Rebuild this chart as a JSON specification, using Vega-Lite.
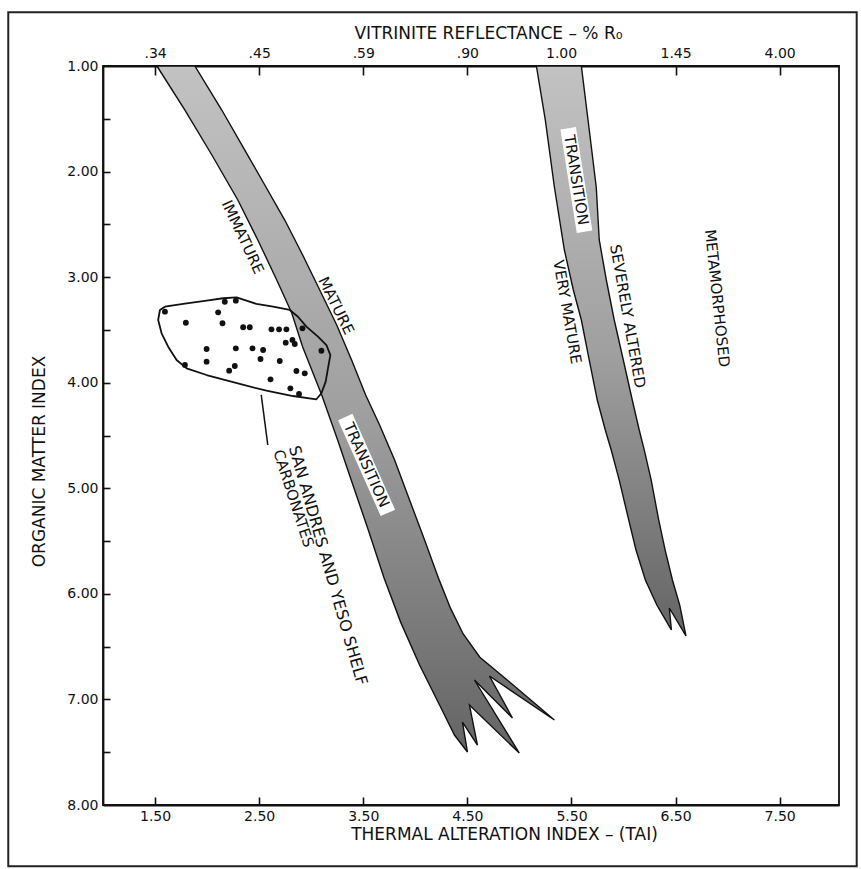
{
  "$schema": "https://vega.github.io/schema/vega-lite/v6.json",
  "width": 736,
  "height": 739,
  "autosize": "none",
  "padding": {"left": 103, "top": 66, "right": 22, "bottom": 64},
  "background": "white",
  "config": {
    "view": {"stroke": "#111", "strokeWidth": 1.8},
    "axis": {"domainColor": "#111", "domainWidth": 1.8, "tickColor": "#111", "tickWidth": 1.6, "labelColor": "#111", "titleColor": "#111", "labelFont": "DejaVu Sans", "titleFont": "DejaVu Sans", "labelFontSize": 14, "titleFontSize": 17, "titleFontWeight": "normal", "grid": false, "labelFlush": false, "labelOverlap": false}
  },
  "datasets": {
    "frame": [{"x": 0.09, "x2": 8.24, "y": 0.49, "y2": 8.58}],
    "bands": [
      {"band": "A", "i": 0, "x": 1.518, "y": 1.0},
      {"band": "A", "i": 1, "x": 1.787, "y": 1.417},
      {"band": "A", "i": 2, "x": 2.046, "y": 1.843},
      {"band": "A", "i": 3, "x": 2.295, "y": 2.269},
      {"band": "A", "i": 4, "x": 2.487, "y": 2.648},
      {"band": "A", "i": 5, "x": 2.669, "y": 3.027},
      {"band": "A", "i": 6, "x": 2.813, "y": 3.34},
      {"band": "A", "i": 7, "x": 2.918, "y": 3.662},
      {"band": "A", "i": 8, "x": 3.101, "y": 4.116},
      {"band": "A", "i": 9, "x": 3.254, "y": 4.543},
      {"band": "A", "i": 10, "x": 3.417, "y": 5.016},
      {"band": "A", "i": 11, "x": 3.55, "y": 5.4},
      {"band": "A", "i": 12, "x": 3.7, "y": 5.85},
      {"band": "A", "i": 13, "x": 3.86, "y": 6.27},
      {"band": "A", "i": 14, "x": 4.041, "y": 6.674},
      {"band": "A", "i": 15, "x": 4.233, "y": 7.053},
      {"band": "A", "i": 16, "x": 4.376, "y": 7.337},
      {"band": "A", "i": 17, "x": 4.501, "y": 7.498},
      {"band": "A", "i": 18, "x": 4.453, "y": 7.214},
      {"band": "A", "i": 19, "x": 4.597, "y": 7.432},
      {"band": "A", "i": 20, "x": 4.52, "y": 7.053},
      {"band": "A", "i": 21, "x": 4.999, "y": 7.508},
      {"band": "A", "i": 22, "x": 4.568, "y": 6.816},
      {"band": "A", "i": 23, "x": 4.933, "y": 7.176},
      {"band": "A", "i": 24, "x": 4.712, "y": 6.778},
      {"band": "A", "i": 25, "x": 5.336, "y": 7.195},
      {"band": "A", "i": 26, "x": 4.9, "y": 6.83},
      {"band": "A", "i": 27, "x": 4.62, "y": 6.6},
      {"band": "A", "i": 28, "x": 4.46, "y": 6.38},
      {"band": "A", "i": 29, "x": 4.34, "y": 6.14},
      {"band": "A", "i": 30, "x": 4.23, "y": 5.87},
      {"band": "A", "i": 31, "x": 4.089, "y": 5.49},
      {"band": "A", "i": 32, "x": 3.945, "y": 5.111},
      {"band": "A", "i": 33, "x": 3.801, "y": 4.732},
      {"band": "A", "i": 34, "x": 3.657, "y": 4.401},
      {"band": "A", "i": 35, "x": 3.523, "y": 4.116},
      {"band": "A", "i": 36, "x": 3.388, "y": 3.785},
      {"band": "A", "i": 37, "x": 3.245, "y": 3.453},
      {"band": "A", "i": 38, "x": 3.082, "y": 3.122},
      {"band": "A", "i": 39, "x": 2.918, "y": 2.79},
      {"band": "A", "i": 40, "x": 2.746, "y": 2.459},
      {"band": "A", "i": 41, "x": 2.554, "y": 2.127},
      {"band": "A", "i": 42, "x": 2.362, "y": 1.796},
      {"band": "A", "i": 43, "x": 2.141, "y": 1.417},
      {"band": "A", "i": 44, "x": 1.882, "y": 1.0},
      {"band": "A", "i": 45, "x": 1.518, "y": 1.0},
      {"band": "B", "i": 0, "x": 5.163, "y": 1.0},
      {"band": "B", "i": 1, "x": 5.249, "y": 1.512},
      {"band": "B", "i": 2, "x": 5.336, "y": 2.146},
      {"band": "B", "i": 3, "x": 5.432, "y": 2.743},
      {"band": "B", "i": 4, "x": 5.518, "y": 3.122},
      {"band": "B", "i": 5, "x": 5.595, "y": 3.406},
      {"band": "B", "i": 6, "x": 5.671, "y": 3.785},
      {"band": "B", "i": 7, "x": 5.748, "y": 4.164},
      {"band": "B", "i": 8, "x": 5.825, "y": 4.448},
      {"band": "B", "i": 9, "x": 5.882, "y": 4.637},
      {"band": "B", "i": 10, "x": 5.959, "y": 4.922},
      {"band": "B", "i": 11, "x": 6.05, "y": 5.3},
      {"band": "B", "i": 12, "x": 6.12, "y": 5.585},
      {"band": "B", "i": 13, "x": 6.21, "y": 5.869},
      {"band": "B", "i": 14, "x": 6.32, "y": 6.106},
      {"band": "B", "i": 15, "x": 6.46, "y": 6.342},
      {"band": "B", "i": 16, "x": 6.44, "y": 6.134},
      {"band": "B", "i": 17, "x": 6.6, "y": 6.399},
      {"band": "B", "i": 18, "x": 6.54, "y": 6.106},
      {"band": "B", "i": 19, "x": 6.47, "y": 5.869},
      {"band": "B", "i": 20, "x": 6.4, "y": 5.585},
      {"band": "B", "i": 21, "x": 6.338, "y": 5.3},
      {"band": "B", "i": 22, "x": 6.266, "y": 4.922},
      {"band": "B", "i": 23, "x": 6.199, "y": 4.637},
      {"band": "B", "i": 24, "x": 6.151, "y": 4.448},
      {"band": "B", "i": 25, "x": 6.084, "y": 4.164},
      {"band": "B", "i": 26, "x": 5.998, "y": 3.785},
      {"band": "B", "i": 27, "x": 5.911, "y": 3.406},
      {"band": "B", "i": 28, "x": 5.835, "y": 3.027},
      {"band": "B", "i": 29, "x": 5.767, "y": 2.648},
      {"band": "B", "i": 30, "x": 5.738, "y": 2.146},
      {"band": "B", "i": 31, "x": 5.671, "y": 1.606},
      {"band": "B", "i": 32, "x": 5.595, "y": 1.0},
      {"band": "B", "i": 33, "x": 5.163, "y": 1.0}
    ],
    "blob": [
      {"i": 0, "x": 1.595, "y": 3.28},
      {"i": 1, "x": 1.77, "y": 3.254},
      {"i": 2, "x": 1.995, "y": 3.223},
      {"i": 3, "x": 2.154, "y": 3.2},
      {"i": 4, "x": 2.283, "y": 3.191},
      {"i": 5, "x": 2.378, "y": 3.223},
      {"i": 6, "x": 2.474, "y": 3.254},
      {"i": 7, "x": 2.634, "y": 3.28},
      {"i": 8, "x": 2.794, "y": 3.311},
      {"i": 9, "x": 2.873, "y": 3.375},
      {"i": 10, "x": 2.954, "y": 3.469},
      {"i": 11, "x": 3.065, "y": 3.564},
      {"i": 12, "x": 3.146, "y": 3.643},
      {"i": 13, "x": 3.184, "y": 3.738},
      {"i": 14, "x": 3.161, "y": 3.864},
      {"i": 15, "x": 3.139, "y": 3.99},
      {"i": 16, "x": 3.098, "y": 4.1},
      {"i": 17, "x": 3.05, "y": 4.157},
      {"i": 18, "x": 2.825, "y": 4.126},
      {"i": 19, "x": 2.57, "y": 4.076},
      {"i": 20, "x": 2.314, "y": 4.012},
      {"i": 21, "x": 1.995, "y": 3.927},
      {"i": 22, "x": 1.803, "y": 3.864},
      {"i": 23, "x": 1.707, "y": 3.785},
      {"i": 24, "x": 1.626, "y": 3.659},
      {"i": 25, "x": 1.563, "y": 3.532},
      {"i": 26, "x": 1.53, "y": 3.406},
      {"i": 27, "x": 1.547, "y": 3.311},
      {"i": 28, "x": 1.595, "y": 3.28}
    ],
    "dots": [
      {"x": 1.595, "y": 3.327}, {"x": 1.796, "y": 3.432}, {"x": 1.787, "y": 3.832},
      {"x": 1.995, "y": 3.681}, {"x": 1.995, "y": 3.801}, {"x": 2.106, "y": 3.333},
      {"x": 2.148, "y": 3.437}, {"x": 2.17, "y": 3.233}, {"x": 2.276, "y": 3.223},
      {"x": 2.212, "y": 3.886}, {"x": 2.276, "y": 3.674}, {"x": 2.266, "y": 3.842},
      {"x": 2.346, "y": 3.475}, {"x": 2.41, "y": 3.475}, {"x": 2.436, "y": 3.674},
      {"x": 2.538, "y": 3.69}, {"x": 2.513, "y": 3.775}, {"x": 2.609, "y": 3.968},
      {"x": 2.618, "y": 3.494}, {"x": 2.691, "y": 3.494}, {"x": 2.762, "y": 3.494},
      {"x": 2.698, "y": 3.794}, {"x": 2.755, "y": 3.621}, {"x": 2.82, "y": 3.595},
      {"x": 2.842, "y": 3.633}, {"x": 2.858, "y": 3.889}, {"x": 2.938, "y": 3.911},
      {"x": 2.8, "y": 4.053}, {"x": 2.883, "y": 4.107}, {"x": 2.916, "y": 3.485},
      {"x": 3.098, "y": 3.697}
    ],
    "leader": [
      {"i": 0, "x": 2.52, "y": 4.116},
      {"i": 1, "x": 2.583, "y": 4.59}
    ]
  },
  "encoding": {
    "x": {"field": "x", "type": "quantitative", "scale": {"domain": [1, 8.07], "nice": false, "zero": false}, "axis": null},
    "y": {"field": "y", "type": "quantitative", "scale": {"domain": [1, 8], "reverse": true, "nice": false, "zero": false}, "axis": null}
  },
  "layer": [
    {
      "data": {"name": "frame"},
      "mark": {"type": "rect", "filled": false, "stroke": "#222", "strokeWidth": 2, "clip": false},
      "encoding": {"x2": {"field": "x2"}, "y2": {"field": "y2"}}
    },
    {
      "data": {"name": "bands"},
      "mark": {"type": "line", "stroke": "#111", "strokeWidth": 1.4, "strokeJoin": "miter",
        "fill": {"gradient": "linear", "x1": 0, "y1": 0, "x2": 0, "y2": 1, "stops": [{"offset": 0, "color": "#c2c2c2"}, {"offset": 0.5, "color": "#a0a0a0"}, {"offset": 1, "color": "#646464"}]}},
      "encoding": {
        "x": {"field": "x", "type": "quantitative", "scale": {"domain": [1, 8.07], "nice": false, "zero": false},
          "axis": {"orient": "bottom", "values": [1.5, 2.5, 3.5, 4.5, 5.5, 6.5, 7.5], "format": ".2f", "ticks": false, "labelPadding": 4, "title": "THERMAL ALTERATION INDEX – (TAI)", "titleX": 401, "titleY": 29, "titleBaseline": "middle", "titleAlign": "center", "titleAnchor": null}},
        "y": {"field": "y", "type": "quantitative", "scale": {"domain": [1, 8], "reverse": true, "nice": false, "zero": false},
          "axis": {"orient": "left", "values": [1, 2, 3, 4, 5, 6, 7, 8], "format": ".2f", "ticks": false, "labelPadding": 5, "title": "ORGANIC MATTER INDEX", "titleX": -64, "titleY": 395, "titleBaseline": "middle", "titleAlign": "center", "titleAngle": -90}},
        "detail": {"field": "band"},
        "order": {"field": "i", "type": "quantitative"}
      }
    },
    {
      "data": {"name": "blob"},
      "mark": {"type": "line", "stroke": "#111", "strokeWidth": 1.8, "strokeJoin": "round"},
      "encoding": {
        "x": {"field": "x", "type": "quantitative", "scale": {"domain": [1, 8.07], "nice": false, "zero": false},
          "axis": {"orient": "top", "values": [1.5, 2.5, 3.5, 4.5, 5.4, 6.5, 7.5], "labelExpr": "datum.value == 1.5 ? '.34' : datum.value == 2.5 ? '.45' : datum.value == 3.5 ? '.59' : datum.value == 4.5 ? '.90' : datum.value == 5.4 ? '1.00' : datum.value == 6.5 ? '1.45' : '4.00'", "ticks": false, "labelPadding": 6, "title": "VITRINITE REFLECTANCE – % R₀", "titleX": 385, "titleY": -33, "titleBaseline": "middle", "titleAlign": "center", "titleAnchor": null}},
        "order": {"field": "i", "type": "quantitative"}
      }
    },
    {
      "data": {"name": "dots"},
      "mark": {"type": "circle", "size": 34, "color": "#111", "opacity": 1},
      "encoding": {
        "x": {"field": "x", "type": "quantitative", "scale": {"domain": [1, 8.07], "nice": false, "zero": false},
          "axis": {"orient": "bottom", "values": [1.5, 2.5, 3.5, 4.5, 5.5, 6.5, 7.5], "offset": -8, "tickSize": 8, "labels": false, "domain": false, "title": null}},
        "y": {"field": "y", "type": "quantitative", "scale": {"domain": [1, 8], "reverse": true, "nice": false, "zero": false},
          "axis": {"orient": "left", "values": [1.5, 2, 2.5, 3, 3.5, 4, 4.5, 5, 5.5, 6, 6.5, 7, 7.5], "offset": -7, "tickSize": 7, "labels": false, "domain": false, "title": null}}
      }
    },
    {
      "data": {"name": "leader"},
      "mark": {"type": "line", "stroke": "#111", "strokeWidth": 1.5},
      "encoding": {
        "x": {"field": "x", "type": "quantitative", "scale": {"domain": [1, 8.07], "nice": false, "zero": false},
          "axis": {"orient": "top", "values": [1.5, 2.5, 3.5, 4.5, 5.4, 6.5, 7.5], "offset": -9, "tickSize": 9, "labels": false, "domain": false, "title": null}},
        "order": {"field": "i", "type": "quantitative"}
      }
    },
    {
      "data": {"values": [{"x": 3.532, "y": 4.779}]},
      "mark": {"type": "point", "shape": "M-1,-0.15L1,-0.15L1,0.15L-1,0.15Z", "size": 11000, "angle": 66, "filled": true, "color": "white", "opacity": 1}
    },
    {
      "data": {"values": [{"x": 5.547, "y": 2.08}]},
      "mark": {"type": "point", "shape": "M-1,-0.15L1,-0.15L1,0.15L-1,0.15Z", "size": 11000, "angle": 81, "filled": true, "color": "white", "opacity": 1}
    },
    {
      "data": {"values": [{"x": 2.343, "y": 2.62, "label": "IMMATURE"}]},
      "mark": {"type": "text", "angle": 65, "font": "DejaVu Sans", "fontSize": 15, "color": "#111", "align": "center", "baseline": "middle"},
      "encoding": {"text": {"field": "label"}}
    },
    {
      "data": {"values": [{"x": 3.24, "y": 3.27, "label": "MATURE"}]},
      "mark": {"type": "text", "angle": 64, "font": "DejaVu Sans", "fontSize": 15, "color": "#111", "align": "center", "baseline": "middle"},
      "encoding": {"text": {"field": "label"}}
    },
    {
      "data": {"values": [{"x": 3.532, "y": 4.779, "label": "TRANSITION"}]},
      "mark": {"type": "text", "angle": 66, "font": "DejaVu Sans", "fontSize": 15, "color": "#111", "align": "center", "baseline": "middle"},
      "encoding": {"text": {"field": "label"}}
    },
    {
      "data": {"values": [{"x": 2.83, "y": 4.6, "label": "SAN ANDRES AND YESO SHELF"}]},
      "mark": {"type": "text", "angle": 74, "font": "DejaVu Sans", "fontSize": 16, "color": "#111", "align": "left", "baseline": "middle"},
      "encoding": {"text": {"field": "label"}}
    },
    {
      "data": {"values": [{"x": 2.68, "y": 4.64, "label": "CARBONATES"}]},
      "mark": {"type": "text", "angle": 72, "font": "DejaVu Sans", "fontSize": 15, "color": "#111", "align": "left", "baseline": "middle"},
      "encoding": {"text": {"field": "label"}}
    },
    {
      "data": {"values": [{"x": 5.547, "y": 2.08, "label": "TRANSITION"}]},
      "mark": {"type": "text", "angle": 81, "font": "DejaVu Sans", "fontSize": 15, "color": "#111", "align": "center", "baseline": "middle"},
      "encoding": {"text": {"field": "label"}}
    },
    {
      "data": {"values": [{"x": 5.46, "y": 3.33, "label": "VERY MATURE"}]},
      "mark": {"type": "text", "angle": 80, "font": "DejaVu Sans", "fontSize": 15, "color": "#111", "align": "center", "baseline": "middle"},
      "encoding": {"text": {"field": "label"}}
    },
    {
      "data": {"values": [{"x": 6.04, "y": 3.37, "label": "SEVERELY ALTERED"}]},
      "mark": {"type": "text", "angle": 80, "font": "DejaVu Sans", "fontSize": 15, "color": "#111", "align": "center", "baseline": "middle"},
      "encoding": {"text": {"field": "label"}}
    },
    {
      "data": {"values": [{"x": 6.899, "y": 3.2, "label": "METAMORPHOSED"}]},
      "mark": {"type": "text", "angle": 84, "font": "DejaVu Sans", "fontSize": 15, "color": "#111", "align": "center", "baseline": "middle"},
      "encoding": {"text": {"field": "label"}}
    }
  ],
  "resolve": {"axis": {"x": "independent", "y": "independent"}}
}
